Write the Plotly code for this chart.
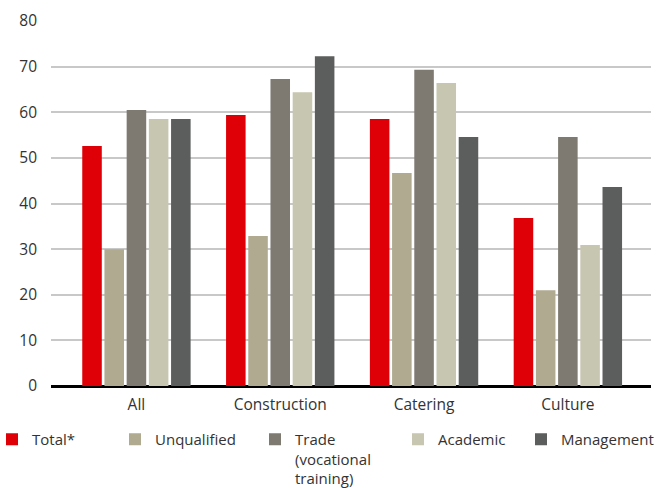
import plotly.graph_objects as go

categories = ["All", "Construction", "Catering", "Culture"]
series_names = ["Total*", "Unqualified", "Trade<br>(vocational<br>training)", "Academic", "Management"]
total = [52.6, 59.4, 58.5, 36.8]
unqualified = [30.0, 32.9, 46.7, 21.0]
trade = [60.5, 67.3, 69.3, 54.6]
academic = [58.5, 64.4, 66.4, 30.9]
management = [58.5, 72.3, 54.6, 43.6]
y_ticks = [0, 10, 20, 30, 40, 50, 60, 70, 80]

values = [total, unqualified, trade, academic, management]
colors = ["#DF0007", "#AFAA90", "#7E7A72", "#C7C6B1", "#5B5E5C"]
legend_ids = ["legend", "legend2", "legend3", "legend4", "legend5"]
legend_x_px = [-8, 115, 255, 398, 521]

W, H = 657, 488
ML, MR, MT, MB = 51, 6, 21, 102
PW, PH = W - ML - MR, H - MT - MB
font_family = "Open Sans, DejaVu Sans, sans-serif"
text_color = "#333333"

fig = go.Figure()
for name, vals, col, lid in zip(series_names, values, colors, legend_ids):
    fig.add_trace(go.Bar(x=categories, y=vals, name=name, marker_color=col,
                         marker_line_width=0, legend=lid))

layout_legends = {}
for lid, xp in zip(legend_ids, legend_x_px):
    layout_legends[lid] = dict(
        x=(xp - ML) / PW, xref="paper", xanchor="left",
        y=(H - MB - 423) / PH, yref="paper", yanchor="top",
        orientation="v", valign="top", bgcolor="rgba(0,0,0,0)",
        font=dict(family=font_family, size=15, color=text_color),
        itemclick=False, itemdoubleclick=False, tracegroupgap=0,
    )

fig.update_layout(
    width=W, height=H,
    margin=dict(l=ML, r=MR, t=MT, b=MB, autoexpand=False),
    paper_bgcolor="white", plot_bgcolor="white",
    barmode="group", bargap=0.228, bargroupgap=0.12,
    font=dict(family=font_family, size=15, color=text_color),
    showlegend=True,
    xaxis=dict(type="category", range=[-0.594, 3.578], showgrid=False, showline=False,
               ticks="", tickfont=dict(size=15.5, color=text_color),
               ticklabelstandoff=7),
    yaxis=dict(range=[0, 80], tickvals=y_ticks, showgrid=True,
               gridcolor="#C8C8C8", gridwidth=1.5,
               zeroline=True, zerolinecolor="#000000", zerolinewidth=2.5,
               showline=False, ticks="", ticklabelstandoff=13,
               tickfont=dict(size=15.5, color=text_color)),
    **layout_legends,
)

fig.write_html("out.html")
